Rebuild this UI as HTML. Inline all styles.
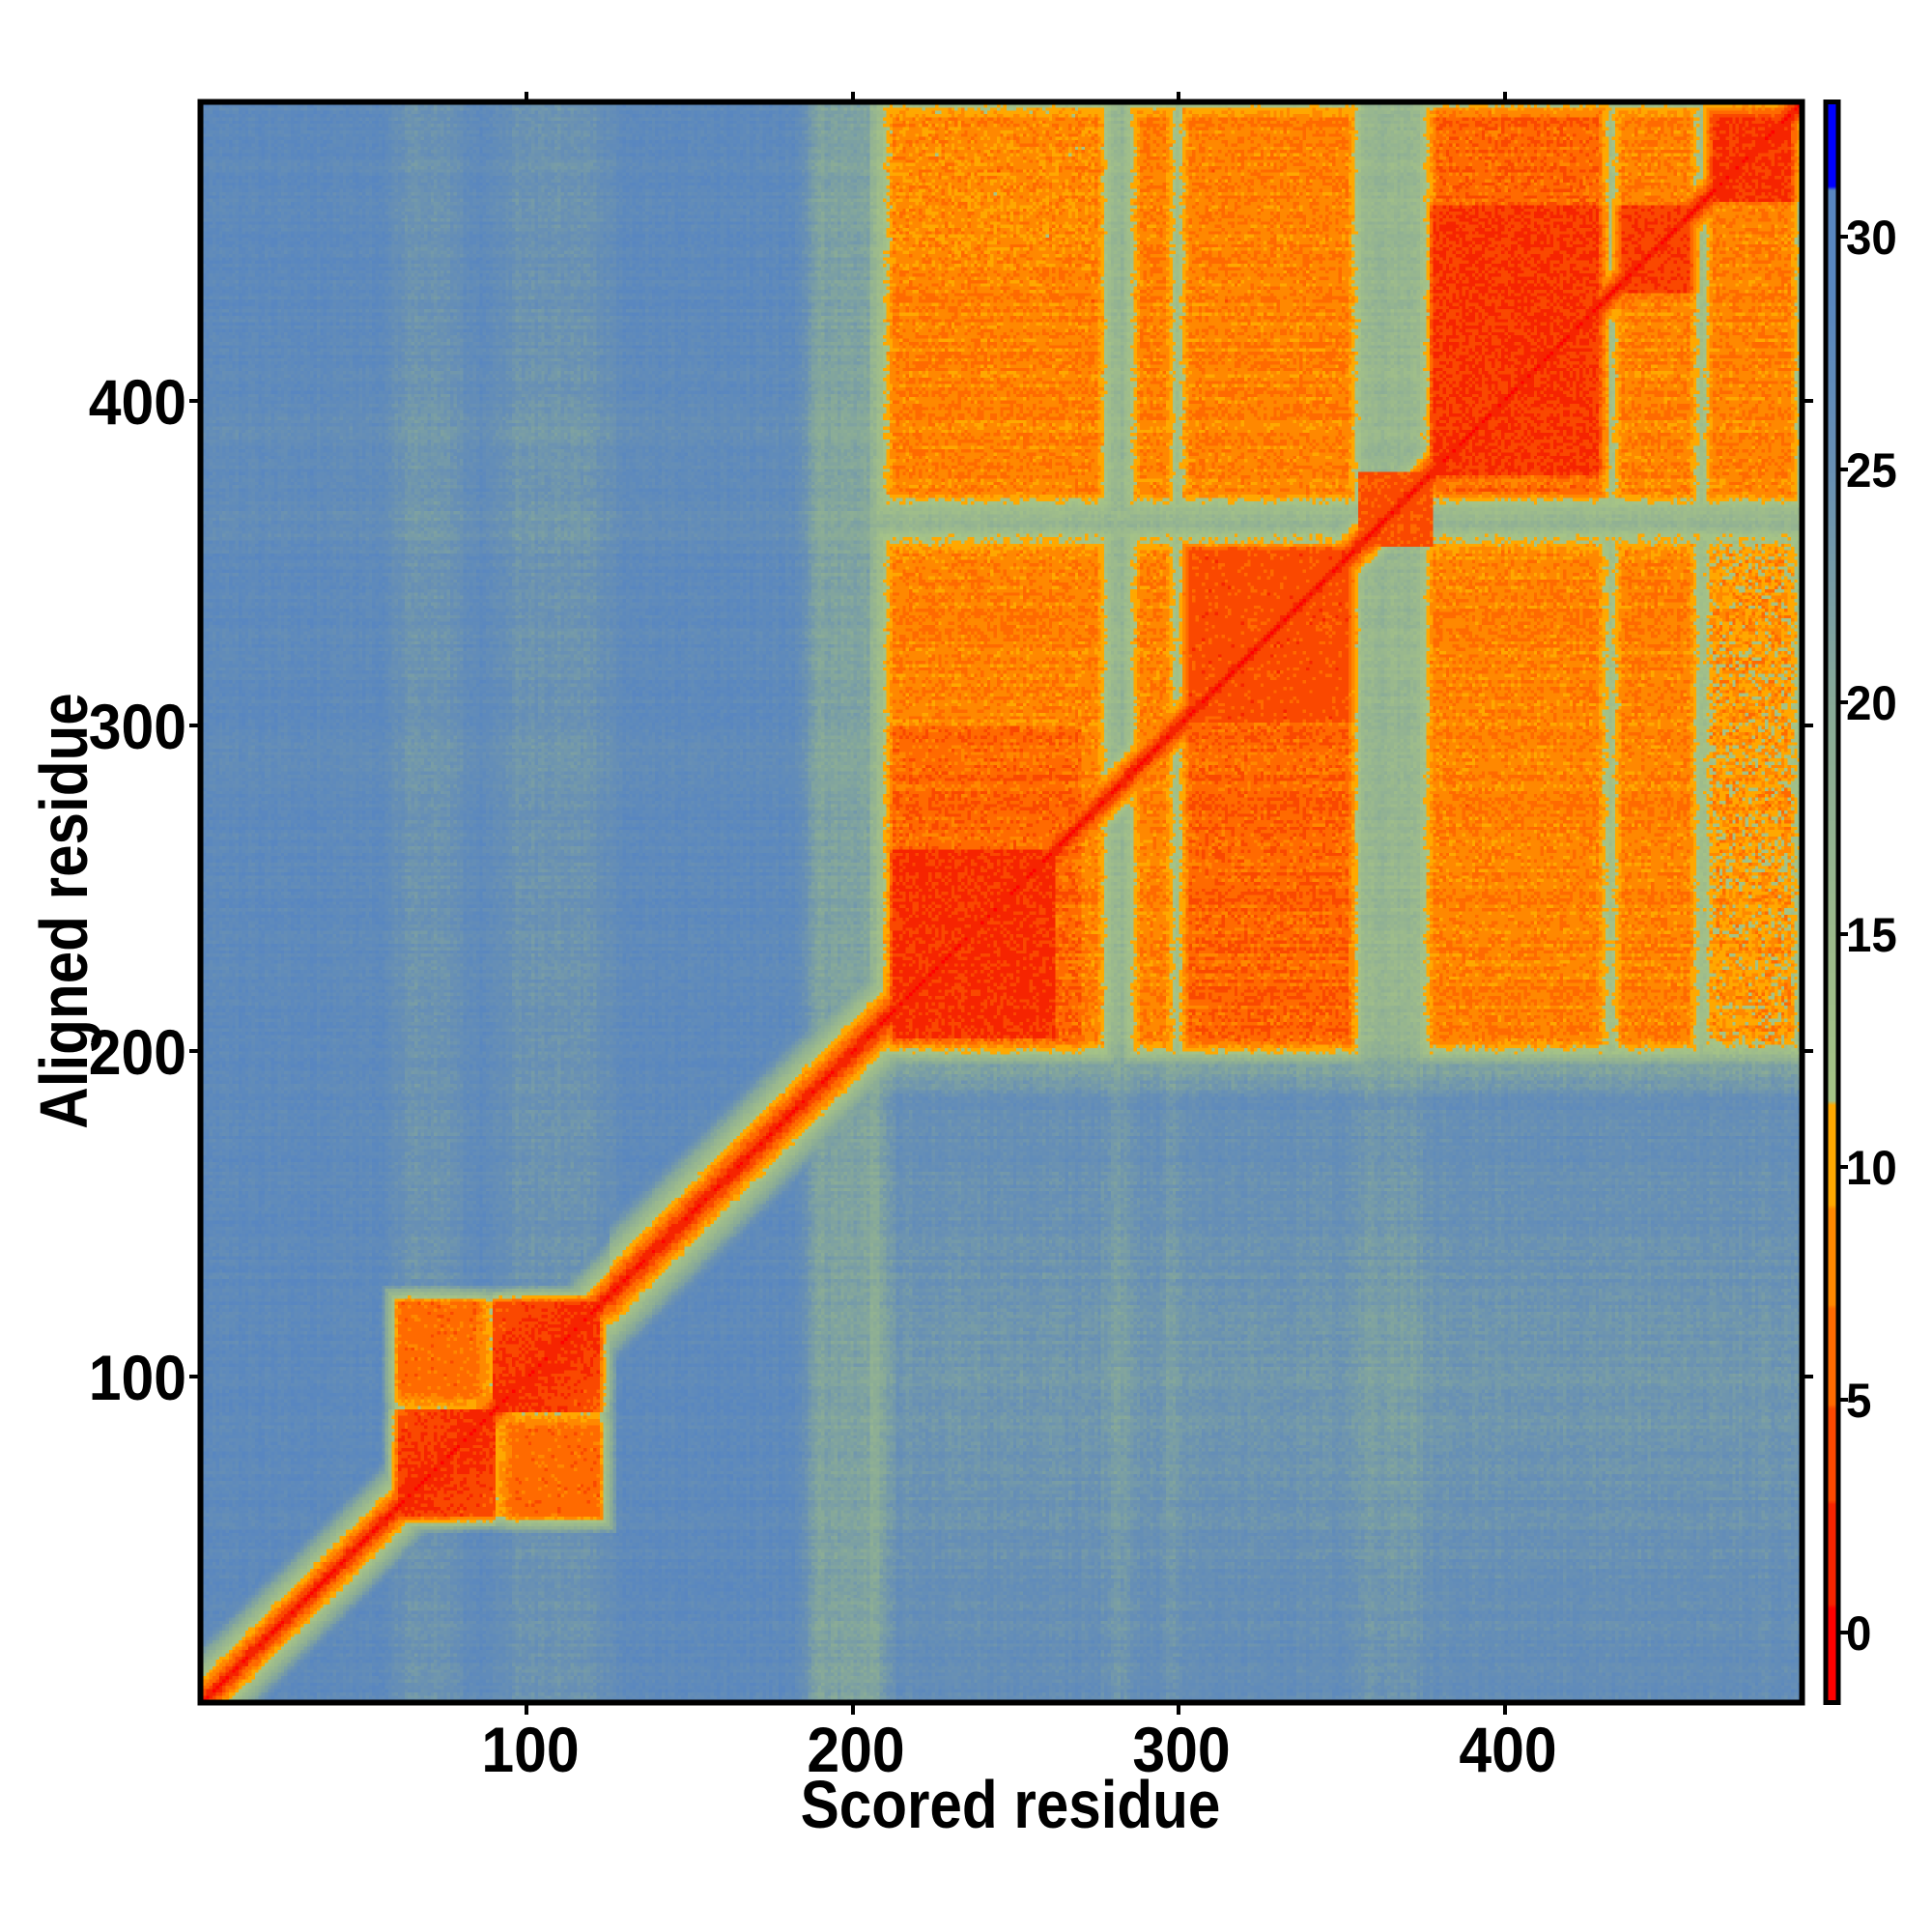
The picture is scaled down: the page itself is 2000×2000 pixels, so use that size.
<!DOCTYPE html>
<html><head><meta charset="utf-8">
<style>
html,body{margin:0;padding:0;background:#fff;}
#wrap{position:relative;width:2000px;height:2000px;overflow:hidden;background:#fff;}
#hm{position:absolute;left:210px;top:108px;width:1654px;height:1654px;image-rendering:pixelated;}
#cb{position:absolute;left:1891px;top:108px;width:10px;height:1654px;}
svg{position:absolute;left:0;top:0;}
text{font-family:"Liberation Sans",sans-serif;font-weight:bold;fill:#000;}
</style></head><body>
<div id="wrap">
<canvas id="hm" width="491" height="491"></canvas>
<canvas id="cb" width="1" height="400"></canvas>
<svg width="2000" height="2000">
<rect x="207.5" y="105.5" width="1658" height="1657" fill="none" stroke="#000" stroke-width="6"/>
<rect x="1890" y="105.5" width="13" height="1657" fill="none" stroke="#000" stroke-width="5"/>
<g stroke="#000" stroke-width="4">
<line x1="545" y1="1765" x2="545" y2="1775"/><line x1="883" y1="1765" x2="883" y2="1775"/><line x1="1220" y1="1765" x2="1220" y2="1775"/><line x1="1558" y1="1765" x2="1558" y2="1775"/>
<line x1="545" y1="103" x2="545" y2="95"/><line x1="883" y1="103" x2="883" y2="95"/><line x1="1220" y1="103" x2="1220" y2="95"/><line x1="1558" y1="103" x2="1558" y2="95"/>
<line x1="205" y1="1425" x2="196" y2="1425"/><line x1="205" y1="1088" x2="196" y2="1088"/><line x1="205" y1="751" x2="196" y2="751"/><line x1="205" y1="415" x2="196" y2="415"/>
<line x1="1868" y1="1425" x2="1877" y2="1425"/><line x1="1868" y1="1088" x2="1877" y2="1088"/><line x1="1868" y1="751" x2="1877" y2="751"/><line x1="1868" y1="415" x2="1877" y2="415"/>
<line x1="1905" y1="1690" x2="1913" y2="1690"/><line x1="1905" y1="1449" x2="1913" y2="1449"/><line x1="1905" y1="1208" x2="1913" y2="1208"/><line x1="1905" y1="967" x2="1913" y2="967"/><line x1="1905" y1="727" x2="1913" y2="727"/><line x1="1905" y1="486" x2="1913" y2="486"/><line x1="1905" y1="245" x2="1913" y2="245"/>
</g>
<g font-size="66" text-anchor="middle">
<text transform="translate(549,1834) scale(0.92,1)">100</text>
<text transform="translate(886,1834) scale(0.92,1)">200</text>
<text transform="translate(1223,1834) scale(0.92,1)">300</text>
<text transform="translate(1561,1834) scale(0.92,1)">400</text>
</g>
<g font-size="66" text-anchor="end">
<text transform="translate(193,1449) scale(0.92,1)">100</text>
<text transform="translate(193,1112) scale(0.92,1)">200</text>
<text transform="translate(193,775) scale(0.92,1)">300</text>
<text transform="translate(193,439) scale(0.92,1)">400</text>
</g>
<g font-size="50" text-anchor="start">
<text transform="translate(1911,1708) scale(0.95,1)">0</text>
<text transform="translate(1911,1467) scale(0.95,1)">5</text>
<text transform="translate(1911,1226) scale(0.95,1)">10</text>
<text transform="translate(1911,985) scale(0.95,1)">15</text>
<text transform="translate(1911,745) scale(0.95,1)">20</text>
<text transform="translate(1911,504) scale(0.95,1)">25</text>
<text transform="translate(1911,263) scale(0.95,1)">30</text>
</g>
<text font-size="70" text-anchor="middle" transform="translate(1046,1892) scale(0.86,1)">Scored residue</text>
<text font-size="70" text-anchor="middle" transform="translate(90,943) rotate(-90) scale(0.86,1)">Aligned residue</text>
</svg>
</div>
<script>
(function(){
var N=491;
function hash(a,b){var h=(a*374761393+b*668265263)|0;h=(h^(h>>>13))*1274126177|0;h=h^(h>>>16);return ((h>>>0)%10000)/10000;}
function inR(v,a,b){return v>=a&&v<=b;}
function sm(v,a,b,w){var l=Math.min(1,Math.max(0,(v-a)/w+0.5)),r=Math.min(1,Math.max(0,(b-v)/w+0.5));return Math.min(l,r);}
var bands=[[-99,0.6,[255,0,0]],[0.6,2.8,[246,36,0]],[2.8,4.9,[250,72,0]],[4.9,7.0,[255,106,0]],[7.0,9.2,[255,136,0]],[9.2,11.4,[255,168,0]]];
var stops=[[11.4,[166,196,134]],[15,[156,186,140]],[20,[136,170,152]],[25,[104,144,180]],[29,[88,134,192]],[31.1,[88,134,192]]];
function col(v){
  if(v>=31.1) return [0,0,255];
  for(var k=0;k<bands.length;k++){if(v<bands[k][1])return bands[k][2];}
  for(var k=0;k<stops.length-1;k++){var a=stops[k],b=stops[k+1];if(v<=b[0]){var t=(v-a[0])/(b[0]-a[0]);return [a[1][0]+(b[1][0]-a[1][0])*t,a[1][1]+(b[1][1]-a[1][1])*t,a[1][2]+(b[1][2]-a[1][2])*t];}}
  return stops[stops.length-1][1];
}
function colGreen(i){var g=0;
  g+=6*sm(i,186,210,8);
  g+=3*sm(i,60,80,10)+3*sm(i,92,125,10);
  g+=2*sm(i,278,286,4)+1.5*sm(i,355,376,6)+1.5*sm(i,296,301,2);
  return g;}
function rowGreen(j){var g=0;g+=2*sm(j,355,372,6)+2*sm(j,380,400,10)+1.5*sm(j,280,300,10);return g;}
var XS=[[210,278],[286,299],[301,355],[376,432],[434,460],[462,491]];
var YS=[[200,358],[369,491]];
function inSet(v,S,w){var m=0;for(var k=0;k<S.length;k++)m=Math.max(m,sm(v,S[k][0],S[k][1],w));return m;}
var cv=document.getElementById('hm'),ctx=cv.getContext('2d'),img=ctx.createImageData(N,N),d=img.data;
for(var py=0;py<N;py++){var j=N-py;
 var rn=(hash(7,j)-0.5)*1.6;
 for(var i=1;i<=N;i++){
  var n=(hash(i,j)-0.5)*2.2+rn+(hash(i,3)-0.5)*1.2;
  var base=27.5-colGreen(i)-rowGreen(j)*0.5+n;
  if(i>205&&j<205) base-=4*(1-Math.abs(j-100)/140);
  if(i>205&&j>=185){
    var w=Math.min(1,(j-185)/20);
    var g=16.5+n*1.3;
    if(g<base) base=base*(1-w)+g*w;
  }
  var v=base;
  var dd=Math.abs(i-j),k=1.4;
  if(i>125&&i<215)k=1.15;
  var dv=0.5+dd*k+(hash(i+9,j)-0.5)*1.5;
  v=Math.min(v,dv);
  // domain A
  var ai=sm(i,58,125,6),aj=sm(j,55,126,6);
  var am=Math.min(ai,aj);
  if(am>0){
   var same=(inR(i,58,90)&&inR(j,55,90))||(inR(i,90,125)&&inR(j,90,126));
   var av=same?(2+dd*0.08):6.0;
   av+= (hash(i,j+11)-0.5)*2.5;
   if(!same){var cc=Math.abs(i-90)+Math.abs(j-90);
     var e=Math.min(Math.abs(i-90),Math.abs(j-90));
     if(cc<40) av+=Math.max(0,(6-e))*0.9;}
   var m=am; v=Math.min(v, av*m+base*(1-m));
  }
  // domain B
  var bi=inSet(i,XS,6),bj=inSet(j,YS,8);
  var bm=Math.min(bi,bj);
  if(bm>0){
   var bv=7.6+(hash(i*3,j*5)-0.5)*3.5+(hash(j,1)-0.5)*2;
   if(inR(i,300,355)&&inR(j,200,356)) bv-=2;
   if(inR(i,380,432)&&inR(j,371,491)) bv-=1.8;
   if(inR(i,210,270)&&inR(j,200,300)) bv-=1.8;
   if(inR(i,212,262)&&inR(j,205,262)) bv=2.5+(hash(i,j*7)-0.5)*2;
   if(inR(i,302,355)&&inR(j,302,355)) bv=4+(hash(i,j*7)-0.5)*2.5;
   if(inR(i,378,432)&&inR(j,378,460)) bv=2.8+(hash(i,j*7)-0.5)*2;
   if(inR(i,434,460)&&inR(j,434,460)) bv=3.2+(hash(i,j*7)-0.5)*2;
   if(inR(i,462,491)&&inR(j,462,491)) bv=2.5+(hash(i,j*7)-0.5)*2;
   if(inR(i,462,491)&&j<358) bv+=3*(hash(i+5,j)>0.35?1:0);
   if(j>440&&(i<275)) bv+=1.5*(hash(i+1,j+2)>0.5?1:0);
   v=Math.min(v,bv*bm+base*(1-bm));
  }
  if(inR(i,356,378)&&inR(j,356,378)) v=Math.min(v,4.5+(hash(i,j)-0.5)*2);
  var c=col(v),o=(py*N+i-1)*4;
  d[o]=c[0];d[o+1]=c[1];d[o+2]=c[2];d[o+3]=255;
 }}
ctx.putImageData(img,0,0);
var cb=document.getElementById('cb'),c2=cb.getContext('2d');
for(var y=0;y<400;y++){var v=32.9-(y+0.5)/400*34.4;var c=col(v);c2.fillStyle='rgb('+(c[0]|0)+','+(c[1]|0)+','+(c[2]|0)+')';c2.fillRect(0,y,1,1);}
})();
</script>
</body></html>
